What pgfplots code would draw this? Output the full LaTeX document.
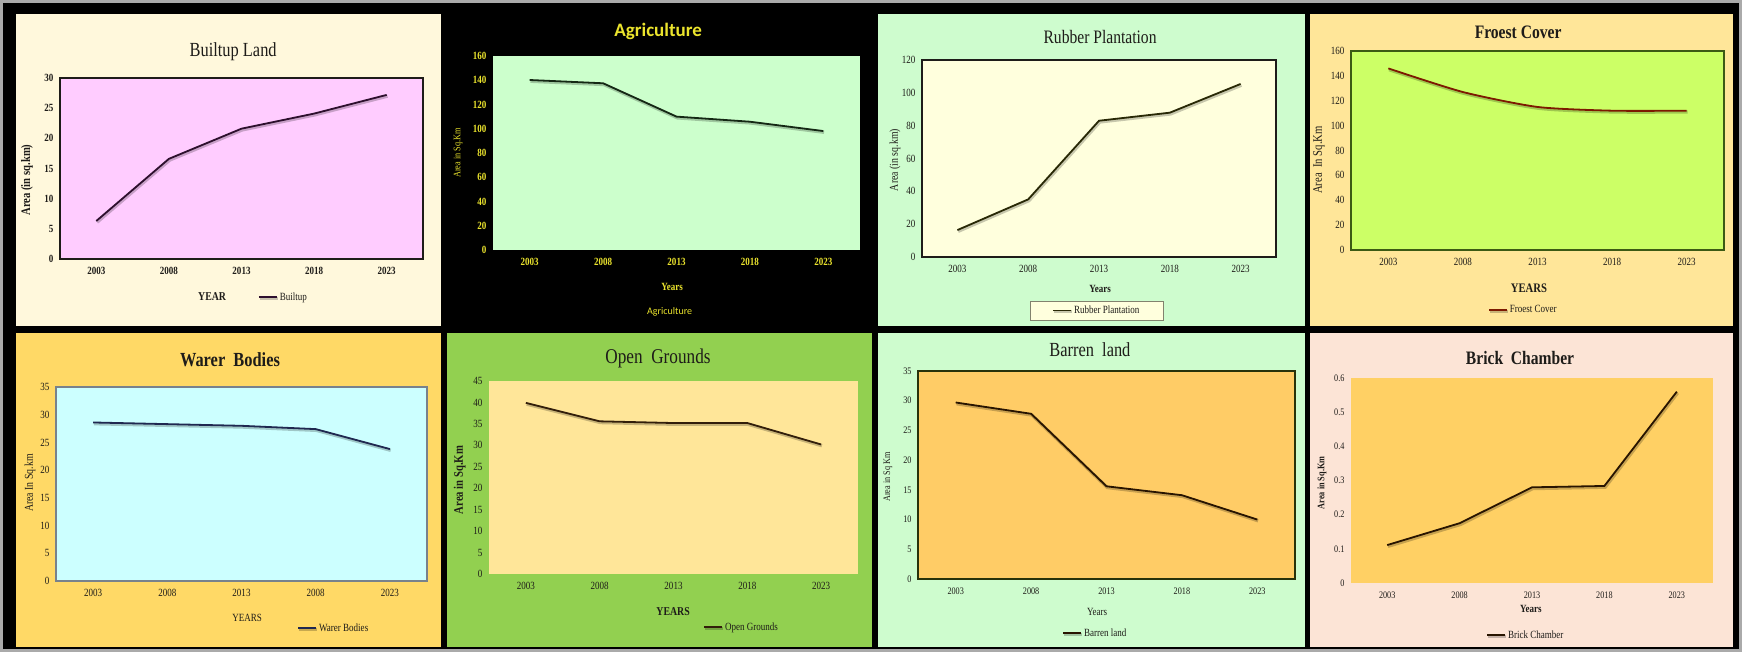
\documentclass[border=0pt]{standalone}
\usepackage{pgfplots}
\pgfplotsset{compat=1.18}
\usepackage{fontspec}
\setmainfont{Liberation Serif}[FakeStretch=0.82]
\newfontfamily\calib{Carlito}

% colours
\definecolor{framegray}{RGB}{170,170,170}
\definecolor{txt}{RGB}{30,28,25}
\definecolor{pAbg}{RGB}{255,248,220}
\definecolor{pAfill}{RGB}{255,204,255}
\definecolor{pAline}{RGB}{45,15,45}
\definecolor{agyel}{RGB}{235,228,45}
\definecolor{pBfill}{RGB}{204,255,204}
\definecolor{pBline}{RGB}{20,40,20}
\definecolor{pCbg}{RGB}{206,252,206}
\definecolor{pCfill}{RGB}{255,255,221}
\definecolor{pCline}{RGB}{40,40,5}
\definecolor{pDbg}{RGB}{255,230,153}
\definecolor{pDfill}{RGB}{204,255,102}
\definecolor{pDedge}{RGB}{60,90,20}
\definecolor{pDline}{RGB}{125,25,0}
\definecolor{pEbg}{RGB}{255,217,102}
\definecolor{pEfill}{RGB}{204,255,255}
\definecolor{pEedge}{RGB}{120,130,140}
\definecolor{pEline}{RGB}{31,40,80}
\definecolor{pFbg}{RGB}{146,208,80}
\definecolor{pFfill}{RGB}{255,230,153}
\definecolor{pFline}{RGB}{50,30,10}
\definecolor{pGfill}{RGB}{255,204,102}
\definecolor{pGedge}{RGB}{40,50,10}
\definecolor{pGline}{RGB}{40,20,0}
\definecolor{pHbg}{RGB}{252,228,214}
\definecolor{pHfill}{RGB}{255,208,100}

\pgfplotsset{
  legend image code/.code={\draw[#1] (0pt,0pt) -- (18pt,0pt);},
  panel/.style={
    scale only axis, anchor=south west,
    xmin=-0.5, xmax=4.5, ymin=0,
    xtick={0,1,2,3,4},
    xticklabels={2003,2008,2013,2018,2023},
    major tick length=0pt,
    tick label style={font=\fontsize{11}{12}\selectfont, color=txt},
    xticklabel style={yshift=-5pt},
    yticklabel style={xshift=-3pt},
    /pgf/number format/assume math mode=true,
    axis line style={line width=1.2pt},
    legend style={draw=none, fill=none, anchor=west, inner sep=0pt,
      font=\fontsize{11}{12}\selectfont, text=txt},
    clip=false,
  },
  tat/.style 2 args={every axis title/.style={at={(axis description cs:#1,#2)},
    anchor=center, text=txt, font=\fontsize{20}{22}\selectfont}},
  xat/.style 2 args={every axis x label/.style={at={(axis description cs:#1,#2)},
    anchor=center, text=txt, font=\bfseries\fontsize{12}{13}\selectfont}},
  yat/.style 2 args={every axis y label/.style={at={(axis description cs:#1,#2)},
    anchor=center, rotate=90, text=txt, font=\bfseries\fontsize{12}{13}\selectfont}},
  lat/.style 2 args={legend style={at={(axis description cs:#1,#2)}}},
  sline/.style={line width=1.8pt,
    preaction={draw=black, draw opacity=0.22, line width=3.2pt,
      transform canvas={shift={(0.8pt,-1.3pt)}}}},
}

\begin{document}
\begin{tikzpicture}[x=1pt,y=1pt]
\useasboundingbox (0,0) rectangle (1742,652);
\fill[framegray] (0,0) rectangle (1742,652);
\fill[black] (3,3) rectangle (1739,649);
% panels
\fill[pAbg] (16,326) rectangle (441,638);
\fill[pCbg] (878,326) rectangle (1305,638);
\fill[pDbg] (1310,326) rectangle (1733,638);
\fill[pEbg] (16,5) rectangle (441,319);
\fill[pFbg] (447,5) rectangle (872,319);
\fill[pCbg] (878,5) rectangle (1305,319);
\fill[pHbg] (1310,5) rectangle (1733,319);

% Builtup Land
\begin{axis}[panel, at={(60pt,393pt)}, width=363pt, height=181pt,
  ymax=30, ytick={0,5,...,30},
  axis background/.style={fill=pAfill},
  axis line style={draw=txt},
  tick label style={font=\bfseries\fontsize{11}{12}\selectfont},
  tat={0.477}{1.144}, xat={0.419}{-0.21}, yat={-0.091}{0.436},
  ylabel style={font=\bfseries\fontsize{13}{14}\selectfont},
  lat={0.545}{-0.21},
  title={Builtup Land}, xlabel={YEAR}, ylabel={Area (in sq.km)}]
\addplot[sline, color=pAline] coordinates {(0,6.3) (1,16.6) (2,21.6) (3,24.1) (4,27.2)};
\addlegendentry{Builtup}
\end{axis}

% Agriculture
\begin{axis}[panel, at={(493pt,402pt)}, width=367pt, height=194pt,
  ymax=160, ytick={0,20,...,160},
  axis background/.style={fill=pBfill},
  axis line style={draw=none},
  tick label style={color=agyel, font=\bfseries\fontsize{11}{12}\selectfont},
  tat={0.450}{1.124}, xat={0.488}{-0.191}, yat={-0.095}{0.5},
  title style={text=agyel, font=\calib\bfseries\fontsize{19}{21}\selectfont},
  xlabel style={text=agyel, font=\bfseries\fontsize{11}{12}\selectfont},
  ylabel style={text=agyel, font=\fontsize{10}{11}\selectfont},
  lat={0.360}{-0.320},
  legend style={text=agyel, font=\calib\fontsize{10}{11}\selectfont},
  legend image post style={draw=black, preaction={draw=none}},
  title={Agriculture}, xlabel={Years}, ylabel={Area in Sq.Km}]
\addplot[sline, color=pBline] coordinates {(0,140.2) (1,137.5) (2,110) (3,105.8) (4,98.1)};
\addlegendentry{Agriculture}
\end{axis}

% Rubber Plantation
\begin{axis}[panel, at={(922pt,395pt)}, width=354pt, height=197pt,
  ymax=120, ytick={0,20,...,120},
  axis background/.style={fill=pCfill},
  axis line style={draw=txt},
  tat={0.503}{1.117}, xat={0.503}{-0.162}, yat={-0.076}{0.492},
  title style={font=\fontsize{19}{21}\selectfont},
  xlabel style={font=\bfseries\fontsize{11}{12}\selectfont},
  ylabel style={font=\fontsize{12}{13}\selectfont},
  lat={0.494}{-0.272},
  legend style={anchor=center, draw={rgb,255:red,130;green,130;blue,110},
    fill=pCfill, inner xsep=22pt, inner ysep=3pt},
  title={Rubber Plantation}, xlabel={Years}, ylabel={Area (in sq.km)}]
\addplot[sline, color=pCline] coordinates {(0,16.4) (1,35.1) (2,83.0) (3,87.9) (4,105.4)};
\addlegendentry{Rubber Plantation}
\end{axis}

% Froest Cover
\begin{axis}[panel, at={(1351pt,402pt)}, width=373pt, height=199pt,
  ymax=160, ytick={0,20,...,160},
  axis background/.style={fill=pDfill},
  axis line style={draw=pDedge},
  tat={0.448}{1.095}, xat={0.477}{-0.191}, yat={-0.086}{0.452},
  title style={font=\bfseries\fontsize{19}{21}\selectfont},
  xlabel style={font=\bfseries\fontsize{13}{14}\selectfont},
  ylabel style={font=\fontsize{13}{14}\selectfont},
  lat={0.367}{-0.302},
  title={Froest Cover}, xlabel={YEARS}, ylabel={Area\ \ In Sq.Km}]
\addplot[sline, smooth, tension=0.4, color=pDline] coordinates {(0,146) (1,127) (2,115) (3,112) (4,112)};
\addlegendentry{Froest Cover}
\end{axis}

% Warer Bodies
\begin{axis}[panel, at={(56pt,71pt)}, width=371pt, height=194pt,
  ymax=35, ytick={0,5,...,35},
  xticklabels={2003,2008,2013,2008,2023},
  axis background/.style={fill=pEfill},
  axis line style={draw=pEedge},
  tat={0.469}{1.139}, xat={0.515}{-0.191}, yat={-0.070}{0.505},
  title style={font=\bfseries\fontsize{20}{22}\selectfont},
  xlabel style={font=\fontsize{11}{12}\selectfont},
  ylabel style={font=\fontsize{12}{13}\selectfont},
  lat={0.650}{-0.242},
  title={Warer\ \ Bodies}, xlabel={YEARS}, ylabel={Area In Sq.km}]
\addplot[sline, color=pEline] coordinates {(0,28.6) (1,28.3) (2,28.0) (3,27.4) (4,23.8)};
\addlegendentry{Warer Bodies}
\end{axis}

% Open Grounds
\begin{axis}[panel, at={(489pt,78pt)}, width=369pt, height=193pt,
  ymax=45, ytick={0,5,...,45},
  axis background/.style={fill=pFfill},
  axis line style={draw=none},
  tat={0.458}{1.119}, xat={0.499}{-0.197}, yat={-0.079}{0.487},
  title style={font=\fontsize{21}{23}\selectfont},
  ylabel style={font=\bfseries\fontsize{13}{14}\selectfont},
  lat={0.580}{-0.275},
  title={Open\ \ Grounds}, xlabel={YEARS}, ylabel={Area in Sq.Km}]
\addplot[sline, color=pFline] coordinates {(0,39.9) (1,35.6) (2,35.2) (3,35.2) (4,30.2)};
\addlegendentry{Open Grounds}
\end{axis}

% Barren land
\begin{axis}[panel, at={(918pt,73pt)}, width=377pt, height=208pt,
  ymax=35, ytick={0,5,...,35},
  axis background/.style={fill=pGfill},
  axis line style={draw=pGedge},
  tick label style={font=\fontsize{10}{11}\selectfont},
  tat={0.456}{1.101}, xat={0.475}{-0.159}, yat={-0.080}{0.490},
  title style={font=\fontsize{20}{22}\selectfont},
  xlabel style={font=\fontsize{11}{12}\selectfont},
  ylabel style={font=\fontsize{10}{11}\selectfont},
  lat={0.382}{-0.260},
  title={Barren\ \ land}, xlabel={Years}, ylabel={Area in Sq Km}]
\addplot[sline, color=pGline] coordinates {(0,29.7) (1,27.8) (2,15.6) (3,14.1) (4,10.0)};
\addlegendentry{Barren land}
\end{axis}

% Brick Chamber
\begin{axis}[panel, at={(1351pt,69pt)}, width=362pt, height=205pt,
  ymax=0.6, ytick={0,0.1,0.2,0.3,0.4,0.5,0.6},
  yticklabel style={/pgf/number format/fixed, /pgf/number format/precision=1},
  axis background/.style={fill=pHfill},
  axis line style={draw=none},
  tick label style={font=\fontsize{10}{11}\selectfont},
  tat={0.467}{1.098}, xat={0.497}{-0.127}, yat={-0.080}{0.488},
  title style={font=\bfseries\fontsize{19}{21}\selectfont},
  xlabel style={font=\bfseries\fontsize{11}{12}\selectfont},
  ylabel style={font=\bfseries\fontsize{10}{11}\selectfont},
  lat={0.373}{-0.254},
  title={Brick\ \ Chamber}, xlabel={Years}, ylabel={Area in Sq.Km}]
\addplot[sline, color=pGline] coordinates {(0,0.111) (1,0.175) (2,0.280) (3,0.284) (4,0.56)};
\addlegendentry{Brick Chamber}
\end{axis}
\end{tikzpicture}
\end{document}
